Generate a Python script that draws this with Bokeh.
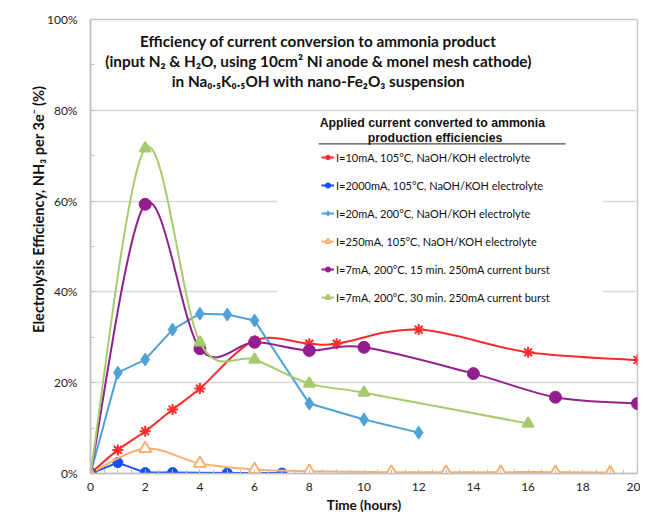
from bokeh.plotting import figure
from bokeh.models import (Range1d, SingleIntervalTicker, PrintfTickFormatter, Label,
                          Legend, LegendItem, BoxAnnotation)
from bokeh.embed import file_html
from bokeh.resources import INLINE

# ---------------- data ----------------
hours_red = [0, 1, 2, 3, 4, 6, 8, 9, 12, 16, 20]
eff_red = [0, 5.2, 9.3, 14.1, 18.7, 29.3, 28.6, 28.6, 31.7, 26.7, 25.0]

hours_blue = [0, 1, 2, 3, 5, 7]
eff_blue = [0, 2.4, 0.2, 0.2, 0.1, 0.1]

hours_lblue = [0, 1, 2, 3, 4, 5, 6, 8, 10, 12]
eff_lblue = [0, 22.2, 25.1, 31.7, 35.2, 35.0, 33.7, 15.4, 11.9, 9.0]

hours_orange = [0, 2, 4, 6, 8, 11, 13, 15, 17, 19]
eff_orange = [0, 5.5, 2.2, 0.9, 0.5, 0.3, 0.3, 0.3, 0.3, 0.2]

hours_purple = [0, 2, 4, 6, 8, 10, 14, 17, 20]
eff_purple = [0, 59.3, 27.5, 28.9, 27.1, 27.8, 22.0, 16.8, 15.4]

hours_green = [0, 2, 4, 6, 8, 10, 16]
eff_green = [0, 71.6, 28.9, 25.1, 19.8, 17.8, 11.0]

labels = [
    "I=10mA, 105°C, NaOH/KOH electrolyte",
    "I=2000mA, 105°C, NaOH/KOH electrolyte",
    "I=20mA, 200°C, NaOH/KOH electrolyte",
    "I=250mA, 105°C, NaOH/KOH electrolyte",
    "I=7mA, 200°C, 15 min. 250mA current burst",
    "I=7mA, 200°C, 30 min. 250mA current burst",
]

title_lines = [
    "Efficiency of current conversion to ammonia product",
    "(input N₂ & H₂O, using 10cm² Ni anode & monel mesh cathode)",
    "in Na₀.₅K₀.₅OH with nano-Fe₂O₃ suspension",
]
legend_title_lines = ["Applied current converted to ammonia", "production efficiencies"]
x_label = "Time (hours)"
y_label = "\u00a0" * 22 + "Electrolysis Efficiency, NH₃ per 3e⁻  (%)"

FONT = "Lato"

p = figure(width=640, height=520, output_backend="svg", toolbar_location=None,
           x_range=Range1d(0, 20), y_range=Range1d(0, 100),
           min_border_left=90, min_border_right=3, min_border_top=19, min_border_bottom=47)
p.background_fill_color = "white"
p.border_fill_color = "white"
p.outline_line_color = "#c8c8c8"
p.outline_line_width = 1.5

# axes
p.xaxis.ticker = SingleIntervalTicker(interval=2, num_minor_ticks=4)
p.yaxis.ticker = SingleIntervalTicker(interval=20, num_minor_ticks=2)
p.yaxis.formatter = PrintfTickFormatter(format="%d%%")
for ax in (p.xaxis, p.yaxis):
    ax.axis_line_color = "#bfbfbf"
    ax.axis_line_width = 1.5
    ax.major_tick_out = 0
    ax.major_tick_in = 0
    ax.minor_tick_out = 0
    ax.minor_tick_in = 4
    ax.minor_tick_line_color = "#bfbfbf"
    ax.major_label_text_font = FONT
    ax.major_label_text_font_size = "12px"
    ax.major_label_text_color = "#222222"
    ax.axis_label_text_font = FONT
    ax.axis_label_text_font_style = "bold"
    ax.axis_label_text_font_size = "13.5px"
    ax.axis_label_text_color = "#111111"
p.xaxis.major_label_standoff = 9
p.yaxis.major_label_standoff = 13
p.xaxis.axis_label = x_label
p.xaxis.axis_label_standoff = 3
p.yaxis.axis_label = y_label
p.yaxis.axis_label_text_font_size = "14.6px"
p.yaxis.axis_label_standoff = -3

p.xgrid.grid_line_color = None
p.ygrid.grid_line_color = "#d9d9d9"
p.ygrid.grid_line_width = 1.5

# white legend panel (hides grid lines)
p.add_layout(BoxAnnotation(left=6.85, right=18.72, bottom=36.0, top=78.7,
                           fill_color="white", fill_alpha=1.0, line_color=None,
                           level="underlay"))


def bezier_parts(xs, ys):
    n = len(xs)
    out = dict(x0=[], y0=[], x1=[], y1=[], cx0=[], cy0=[], cx1=[], cy1=[])
    for i in range(n - 1):
        i0 = max(i - 1, 0)
        i3 = min(i + 2, n - 1)
        out["x0"].append(xs[i]); out["y0"].append(ys[i])
        out["x1"].append(xs[i + 1]); out["y1"].append(ys[i + 1])
        out["cx0"].append(xs[i] + (xs[i + 1] - xs[i0]) / 6.0)
        out["cy0"].append(ys[i] + (ys[i + 1] - ys[i0]) / 6.0)
        out["cx1"].append(xs[i + 1] - (xs[i3] - xs[i]) / 6.0)
        out["cy1"].append(ys[i + 1] - (ys[i3] - ys[i]) / 6.0)
    return out


series = [
    (hours_red, eff_red, "#ff2b2b", "asterisk", "#ff2b2b", True, 11),
    (hours_blue, eff_blue, "#1450f5", "circle", "#1450f5", False, 10),
    (hours_lblue, eff_lblue, "#4ea2d8", "diamond", "#4ea2d8", False, 13),
    (hours_orange, eff_orange, "#fbb072", "triangle", "white", True, 12),
    (hours_purple, eff_purple, "#931f8f", "circle", "#931f8f", True, 12),
    (hours_green, eff_green, "#a7cb6c", "triangle", "#a7cb6c", True, 11),
]

items = []
for (xs, ys, col, mk, fill, smooth, size), lab in zip(series, labels):
    if smooth:
        b = bezier_parts(xs, ys)
        lr = p.bezier(x0=b["x0"], y0=b["y0"], x1=b["x1"], y1=b["y1"],
                      cx0=b["cx0"], cy0=b["cy0"], cx1=b["cx1"], cy1=b["cy1"],
                      line_color=col, line_width=2)
    else:
        lr = p.line(xs, ys, line_color=col, line_width=2)
    sr = p.scatter(xs, ys, marker=mk, size=size, line_color=col, fill_color=fill,
                   line_width=2 if mk in ("asterisk", "triangle") else 1)
    items.append(LegendItem(label=lab, renderers=[lr, sr]))

legend = Legend(items=items, location=(231, 167), orientation="vertical",
                glyph_width=13, glyph_height=18, label_height=18, spacing=10,
                padding=0, margin=0, label_standoff=2,
                border_line_color=None, background_fill_alpha=0,
                label_text_font=FONT, label_text_font_size="11px",
                label_text_color="#111111")
p.add_layout(legend)

# legend title + underline
for txt, lx, ly in zip(legend_title_lines, [12.5, 12.6], [77.1, 73.8]):
    p.add_layout(Label(x=lx, y=ly, text=txt, text_align="center", text_baseline="middle",
                       text_font="Liberation Sans", text_font_style="bold",
                       text_font_size="12.3px", text_color="#111111"))
p.segment(x0=[8.34], y0=[72.6], x1=[17.37], y1=[72.6], line_color="#222222", line_width=1)

# chart title
for txt, ty in zip(title_lines, [95.2, 90.8, 86.4]):
    p.add_layout(Label(x=8.33, y=ty, text=txt, text_align="center", text_baseline="middle",
                       text_font=FONT, text_font_style="bold",
                       text_font_size="15.3px", text_color="#111111"))

open("out.html", "w").write(file_html(p, INLINE))
